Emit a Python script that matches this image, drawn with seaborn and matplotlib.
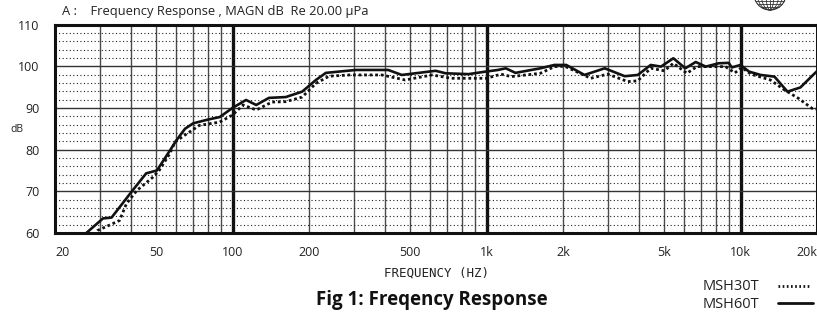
import numpy as np
import pandas as pd
import matplotlib
matplotlib.use("Agg")
import matplotlib.pyplot as plt
from matplotlib.lines import Line2D
from matplotlib.patches import Circle, Ellipse
import seaborn as sns

# ---------------- data ----------------
msh60_freq = [26, 30.9, 33.4, 40.4, 45.7, 50.4, 56.7, 60.1, 65, 70, 80, 89, 100, 113, 124,
              139, 162, 188, 213, 233, 306, 410, 464, 541, 630, 690, 850, 990, 1110, 1190,
              1300, 1630, 1850, 2060, 2430, 2920, 3500, 3940, 4430, 4860, 5440, 6060, 6660,
              7300, 8200, 8980, 9240, 10000, 10800, 12000, 13600, 15300, 17200, 19600, 20000]
msh60_db = [59.5, 63.5, 63.7, 70.2, 74.3, 75.0, 79.8, 82.2, 85.0, 86.3, 87.2, 87.8, 90.0, 91.9, 90.7,
            92.4, 92.6, 93.9, 96.7, 98.4, 99.1, 99.1, 97.9, 98.4, 98.9, 98.3, 98.1, 98.7, 99.1, 99.5,
            98.4, 99.5, 100.3, 100.3, 97.9, 99.5, 97.6, 97.9, 100.3, 99.9, 101.9, 99.5, 101.0,
            99.9, 100.7, 100.8, 99.7, 100.3, 98.7, 97.9, 97.5, 93.9, 94.9, 98.3, 98.8]

msh30_freq = [28.5, 29.4, 32, 35.9, 38.2, 42, 48.4, 51.4, 56.7, 59.3, 65, 74, 89, 100, 110,
              124, 143, 162, 188, 213, 240, 288, 387, 478, 611, 727, 890, 1000, 1140, 1250,
              1630, 1850, 2030, 2570, 3000, 3600, 3940, 4430, 5010, 5440, 6150, 6730, 7960,
              8720, 9500, 10100, 11000, 13100, 14900, 16900, 19100, 20000]
msh30_db = [59.5, 60.6, 61.6, 63.0, 67.0, 70.2, 73.3, 75.0, 79.1, 81.8, 83.5, 85.8, 86.6, 88.3, 90.7,
            89.5, 91.4, 91.5, 92.6, 95.9, 97.6, 97.9, 97.9, 96.7, 97.9, 97.1, 97.1, 97.1, 98.1, 97.5,
            98.3, 99.9, 100.0, 97.1, 98.1, 96.3, 96.5, 99.5, 98.9, 100.7, 98.3, 99.9, 99.9,
            99.9, 98.4, 99.7, 98.1, 96.7, 94.3, 92.3, 89.9, 89.7]

x_ticks = [20, 50, 100, 200, 500, 1000, 2000, 5000, 10000, 20000]
x_tick_labels = ["20", "50", "100", "200", "500", "1k", "2k", "5k", "10k", "20k"]
y_ticks = [60, 70, 80, 90, 100, 110]
y_tick_labels = ["60", "70", "80", "90", "100", "110"]
series_names = ["MSH30T", "MSH60T"]

# ---------------- figure ----------------
sns.set_style("white")
plt.rcParams['font.family'] = ['Open Sans', 'DejaVu Sans']

W, H = 817, 317
fig = plt.figure(figsize=(W / 100, H / 100), dpi=100)
ax = fig.add_axes([55 / W, (H - 233) / H, (817 - 55) / W, (233 - 24.5) / H])

ax.set_xscale("log")
ax.set_xlim(20, 20000)
ax.set_ylim(60, 110)

# grid lines
for dec in [10, 100, 1000, 10000]:
    for m in range(1, 10):
        f = dec * m
        if f <= 20 or f >= 20000:
            continue
        if m == 1:
            ax.axvline(f, color="#111111", lw=2.4, zorder=1)
        else:
            ax.axvline(f, color="#4a4a4a", lw=1.0, zorder=1)
for v in range(62, 110, 2):
    if v % 10 == 0:
        ax.axhline(v, color="#333333", lw=1.0, zorder=1)
    else:
        ax.axhline(v, color="#222222", lw=0.8, linestyle=(0, (1, 2.2)), zorder=1)

df30 = pd.DataFrame({"freq": msh30_freq, "db": msh30_db})
df60 = pd.DataFrame({"freq": msh60_freq, "db": msh60_db})
sns.lineplot(data=df30, x="freq", y="db", ax=ax, color="#111111", lw=2.0,
             linestyle=(0, (1, 1)), zorder=3)
sns.lineplot(data=df60, x="freq", y="db", ax=ax, color="#111111", lw=1.9, zorder=4)

ax.set_xlabel("")
ax.set_ylabel("")
ax.set_xticks(x_ticks)
ax.set_xticklabels(x_tick_labels)
ax.set_xticks([], minor=True)
ax.set_yticks(y_ticks)
ax.set_yticklabels(y_tick_labels)
ax.tick_params(axis="both", length=0, labelsize=9, colors="#222222")
ax.tick_params(axis="x", pad=9)
ax.tick_params(axis="y", pad=11)
xl = ax.get_xticklabels()
xl[0].set_ha("left")
xl[-1].set_ha("right")

for s in ax.spines.values():
    s.set_color("#111111")
    s.set_linewidth(2.2)

# texts
fig.text(62 / W, 1 - 12 / H, "A :    Frequency Response , MAGN dB  Re 20.00 \u00b5Pa",
         fontsize=9.3, va="center", ha="left", color="#222222")
fig.text(10 / W, 1 - 129 / H, "dB", fontsize=7.5, va="center", ha="left", color="#222222")
fig.text(437 / W, 1 - 273 / H, "FREQUENCY (HZ)", family="DejaVu Sans Mono",
         fontsize=9.0, va="center", ha="center", color="#222222")
fig.text(432 / W, 1 - 300 / H, "Fig 1: Freqency Response", fontsize=13.5,
         fontweight="bold", va="center", ha="center", color="#111111")

# legend (figure level)
fig.text(703 / W, 1 - 287 / H, series_names[0], fontsize=10.5, va="center", ha="left",
         color="#222222")
fig.text(703 / W, 1 - 305 / H, series_names[1], fontsize=10.5, va="center", ha="left",
         color="#222222")
fig.add_artist(Line2D([778 / W, 810 / W], [1 - 286 / H, 1 - 286 / H], transform=fig.transFigure,
                      color="#111111", lw=2.0, linestyle=(0, (0.6, 0.9))))
fig.add_artist(Line2D([778 / W, 813 / W], [1 - 303 / H, 1 - 303 / H], transform=fig.transFigure,
                      color="#111111", lw=2.0))

# small globe logo at top right
lax = fig.add_axes([752 / W, 1 - 12 / H, 36 / W, 12 / H])
lax.set_xlim(-18, 18)
lax.set_ylim(0, 12)
lax.axis("off")
lax.add_patch(Circle((0, 18), 16, fill=False, lw=0.8, ec="#333333"))
for k in [0.25, 0.55, 0.8]:
    lax.add_patch(Ellipse((0, 18), 32 * k, 32, fill=False, lw=0.6, ec="#333333"))
lax.plot([0, 0], [2, 12], color="#333333", lw=0.6)
for yy in [5, 8, 11]:
    half = np.sqrt(max(16 ** 2 - (18 - yy) ** 2, 0))
    lax.plot([-half, half], [yy, yy], color="#333333", lw=0.6)

fig.savefig("out.png", dpi=100)
